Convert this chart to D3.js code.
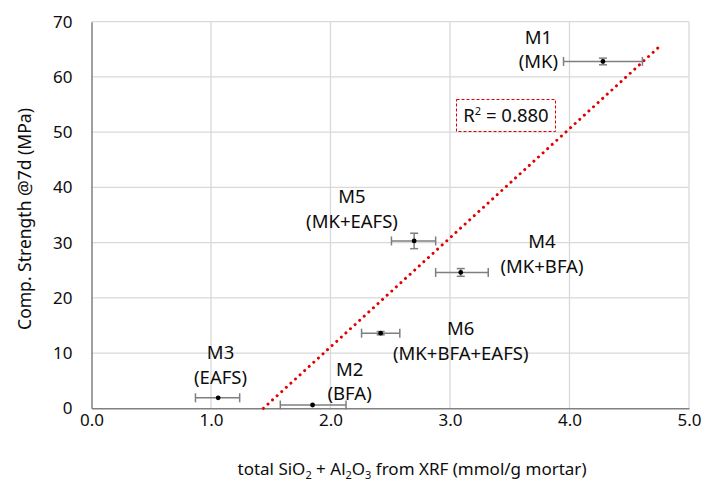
<!DOCTYPE html>
<html>
<head>
<meta charset="utf-8">
<script src="https://cdn.jsdelivr.net/npm/d3@7"></script>
<style>
  body { margin: 0; background: #fff; }
  svg { font-family: "Noto Sans", "Open Sans", sans-serif; }
  .grid line { stroke: #d9d9d9; stroke-width: 1.3; }
  .axis path, .axis line { stroke: #808080; }
</style>
</head>
<body>
<div id="chart"></div>
<script>
// mixes
const mixes = ['M1', 'M2', 'M3', 'M4', 'M5', 'M6'];
const binders = ['(MK)', '(BFA)', '(EAFS)', '(MK+BFA)', '(MK+EAFS)', '(MK+BFA+EAFS)'];
// total SiO2 + Al2O3 (mmol/g mortar)
const oxides = [4.28, 1.85, 1.06, 3.09, 2.70, 2.42];
const oxideLow = [3.95, 1.58, 0.87, 2.88, 2.51, 2.26];
const oxideHigh = [4.61, 2.13, 1.24, 3.32, 2.88, 2.58];
// compressive strength at 7 d (MPa)
const strength = [62.8, 0.6, 1.9, 24.6, 30.3, 13.6];
const strengthErr = [0.6, 0, 0, 0.7, 1.4, 0.3];
// label anchors in data units
const labelX = [3.74, 2.16, 1.08, 3.77, 2.18, 3.09];
const labelY = [66.0, 5.9, 8.9, 29.0, 37.1, 13.2];

const xTicks = [0, 1, 2, 3, 4, 5];
const yTicks = [0, 10, 20, 30, 40, 50, 60, 70];
const trendEndX = 4.75;
const rSquaredText = '0.880';

const width = 703, height = 487;
const margin = { top: 21.7, right: 14, bottom: 78.7, left: 91.5 };
const textColor = '#0d0d0d';

const svg = d3.select('#chart').append('svg')
    .attr('width', width)
    .attr('height', height);

const x = d3.scaleLinear().domain([0, 5]).range([margin.left, width - margin.right]);
const y = d3.scaleLinear().domain([0, 70]).range([height - margin.bottom, margin.top]);

// Grid
svg.append('g').attr('class', 'grid')
    .selectAll('line.h').data(yTicks.slice(1)).enter()
    .append('line')
    .attr('x1', x(0)).attr('x2', x(5))
    .attr('y1', d => y(d)).attr('y2', d => y(d));
svg.append('g').attr('class', 'grid')
    .selectAll('line.v').data(xTicks.slice(1)).enter()
    .append('line')
    .attr('y1', y(0)).attr('y2', y(70))
    .attr('x1', d => x(d)).attr('x2', d => x(d));

// Axes
const xAxis = svg.append('g').attr('class', 'axis')
    .attr('transform', `translate(0,${y(0)})`)
    .call(d3.axisBottom(x).tickValues(xTicks).tickFormat(d3.format('.1f')).tickSize(0).tickPadding(6));
const yAxis = svg.append('g').attr('class', 'axis')
    .attr('transform', `translate(${x(0)},0)`)
    .call(d3.axisLeft(y).tickValues(yTicks).tickSize(0).tickPadding(19));
[xAxis, yAxis].forEach(a => {
    a.select('.domain').attr('stroke-width', 1.5);
    a.selectAll('text').attr('font-size', 17).attr('fill', textColor).attr('font-family', '"Noto Sans", sans-serif');
});

// Axis titles
const xTitle = svg.append('text')
    .attr('x', 412)
    .attr('y', 475)
    .attr('text-anchor', 'middle')
    .attr('font-size', 17)
    .attr('fill', textColor);
xTitle.append('tspan').text('total SiO');
xTitle.append('tspan').attr('font-size', 11).attr('dy', 4).text('2');
xTitle.append('tspan').attr('dy', -4).text(' + Al');
xTitle.append('tspan').attr('font-size', 11).attr('dy', 4).text('2');
xTitle.append('tspan').attr('dy', -4).text('O');
xTitle.append('tspan').attr('font-size', 11).attr('dy', 4).text('3');
xTitle.append('tspan').attr('dy', -4).text(' from XRF (mmol/g mortar)');

svg.append('text')
    .attr('transform', `translate(31,${(y(0) + y(70)) / 2 + 4}) rotate(-90)`)
    .attr('text-anchor', 'middle')
    .attr('font-size', 17.5)
    .attr('fill', textColor)
    .text('Comp. Strength @7d (MPa)');

// Linear trendline (least squares)
const meanX = d3.mean(oxides), meanY = d3.mean(strength);
const sxy = d3.sum(oxides, (v, i) => (v - meanX) * (strength[i] - meanY));
const sxx = d3.sum(oxides, v => (v - meanX) ** 2);
const slope = sxy / sxx;
const intercept = meanY - slope * meanX;
const trendStartX = -intercept / slope;

svg.append('line')
    .attr('x1', x(trendStartX)).attr('y1', y(slope * trendStartX + intercept))
    .attr('x2', x(trendEndX)).attr('y2', y(slope * trendEndX + intercept))
    .attr('stroke', '#e00000')
    .attr('stroke-width', 3)
    .attr('stroke-linecap', 'round')
    .attr('stroke-dasharray', '0.01 6.2');

// R² label
const rBox = svg.append('g');
rBox.append('rect')
    .attr('x', 456.5).attr('y', 99.5)
    .attr('width', 99).attr('height', 32)
    .attr('fill', '#fff')
    .attr('stroke', '#e00000')
    .attr('stroke-width', 1)
    .attr('stroke-dasharray', '3 2');
const rText = rBox.append('text')
    .attr('x', 506).attr('y', 122)
    .attr('text-anchor', 'middle')
    .attr('font-size', 18.5)
    .attr('fill', textColor);
rText.append('tspan').text('R');
rText.append('tspan').attr('font-size', 11).attr('dy', -7).text('2');
rText.append('tspan').attr('dy', 7).text(' = ' + rSquaredText);

// Error bars and points
const data = mixes.map((m, i) => ({
    mix: m, binder: binders[i], x: oxides[i], lo: oxideLow[i], hi: oxideHigh[i],
    y: strength[i], err: strengthErr[i], lx: labelX[i], ly: labelY[i]
}));

const pts = svg.append('g').selectAll('g.pt').data(data).enter()
    .append('g').attr('class', 'pt');

const barColor = '#7f7f7f';
pts.append('line')
    .attr('x1', d => x(d.lo)).attr('x2', d => x(d.hi))
    .attr('y1', d => y(d.y)).attr('y2', d => y(d.y))
    .attr('stroke', barColor).attr('stroke-width', 1.5);
pts.append('line')
    .attr('x1', d => x(d.lo)).attr('x2', d => x(d.lo))
    .attr('y1', d => y(d.y) - 4.5).attr('y2', d => y(d.y) + 4.5)
    .attr('stroke', barColor).attr('stroke-width', 1.5);
pts.append('line')
    .attr('x1', d => x(d.hi)).attr('x2', d => x(d.hi))
    .attr('y1', d => y(d.y) - 4.5).attr('y2', d => y(d.y) + 4.5)
    .attr('stroke', barColor).attr('stroke-width', 1.5);

const yErr = pts.filter(d => d.err > 0);
yErr.append('line')
    .attr('x1', d => x(d.x)).attr('x2', d => x(d.x))
    .attr('y1', d => y(d.y - d.err)).attr('y2', d => y(d.y + d.err))
    .attr('stroke', barColor).attr('stroke-width', 1.5);
[-1, 1].forEach(s => {
    yErr.append('line')
        .attr('x1', d => x(d.x) - 4).attr('x2', d => x(d.x) + 4)
        .attr('y1', d => y(d.y + s * d.err)).attr('y2', d => y(d.y + s * d.err))
        .attr('stroke', barColor).attr('stroke-width', 1.5);
});

pts.append('circle')
    .attr('cx', d => x(d.x)).attr('cy', d => y(d.y))
    .attr('r', 2.4)
    .attr('fill', '#000');

// Labels
const labels = svg.append('g').selectAll('text.lbl').data(data).enter()
    .append('text')
    .attr('class', 'lbl')
    .attr('x', d => x(d.lx))
    .attr('y', d => y(d.ly))
    .attr('text-anchor', 'middle')
    .attr('font-size', 18.5)
    .attr('fill', textColor);
labels.append('tspan').text(d => d.mix);
labels.append('tspan').attr('x', d => x(d.lx)).attr('dy', 24.5).text(d => d.binder);
</script>
</body>
</html>
